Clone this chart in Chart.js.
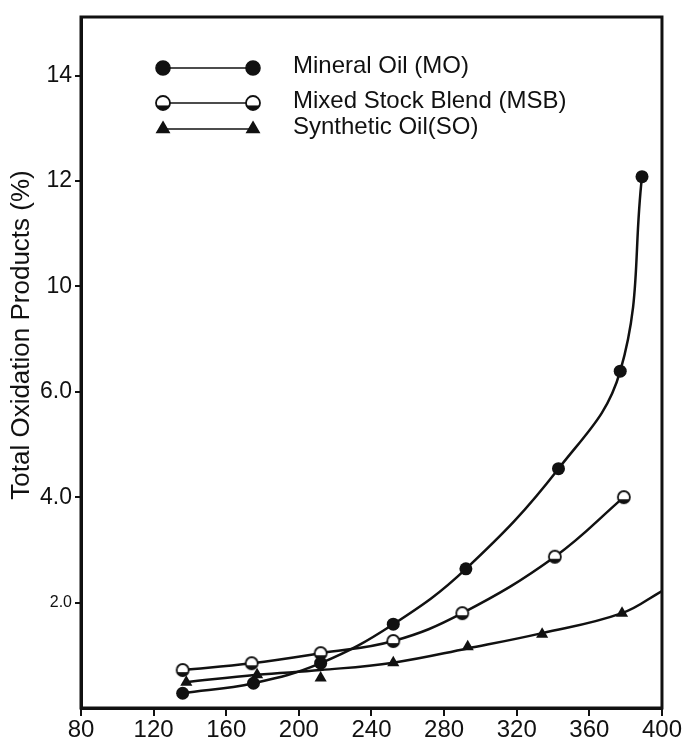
<!DOCTYPE html>
<html>
<head>
<meta charset="utf-8">
<script src="https://cdn.jsdelivr.net/npm/chart.js@4.4.1/dist/chart.umd.min.js"></script>
<style>
  html, body { margin: 0; padding: 0; background: #fff; }
  #wrap { width: 682px; height: 745px; position: relative; }
</style>
</head>
<body>
<div id="wrap"><canvas id="chart" width="682" height="745"></canvas></div>
<script>
// Data (x = temperature axis, y = position on the printed axis)
const seriesNames = ['Mineral Oil (MO)', 'Mixed Stock Blend (MSB)', 'Synthetic Oil(SO)'];

const moX = [136, 175, 212, 252, 292, 343, 377, 389];
const moY = [0.28, 0.47, 0.85, 1.59, 2.64, 4.54, 6.39, 10.08];

const msbX = [136, 174, 212, 252, 290, 341, 379];
const msbY = [0.72, 0.85, 1.04, 1.27, 1.80, 2.87, 4.00];

// SO markers sit slightly off the fitted curve
const soMarkX = [138, 177, 212, 252, 293, 334, 378];
const soMarkY = [0.49, 0.63, 0.57, 0.86, 1.16, 1.40, 1.80];
const soLineX = [138, 177, 212, 252, 293, 334, 378, 400];
const soLineY = [0.49, 0.63, 0.72, 0.86, 1.13, 1.42, 1.80, 2.22];

// printed tick labels (the figure's labels skip 8)
const yTickValues = [2, 4, 6, 8, 10, 12];
const yTickLabels = ['2.0', '4.0', '6.0', '10', '12', '14'];
const xMin = 80, xMax = 400, xStep = 40;

const yTitle = 'Total Oxidation Products (%)';
const FONT = '"Liberation Sans", Arial, sans-serif';

function pts(xs, ys) {
    return xs.map((x, i) => ({ x: x, y: ys[i] }));
}

// half filled circle for MSB
function halfCircle(r) {
    const c = document.createElement('canvas');
    const s = r * 2 + 4;
    c.width = s; c.height = s;
    const g = c.getContext('2d');
    const m = s / 2;
    g.beginPath();
    g.arc(m, m, r, 0, Math.PI * 2);
    g.fillStyle = '#fff';
    g.fill();
    g.save();
    g.clip();
    g.fillStyle = '#111';
    g.fillRect(0, m + r * 0.35, s, s);
    g.restore();
    g.beginPath();
    g.arc(m, m, r, 0, Math.PI * 2);
    g.lineWidth = 1.8;
    g.strokeStyle = '#111';
    g.stroke();
    return c;
}
const msbPoint = halfCircle(6);
const msbLegendPoint = halfCircle(7);

const lineStyle = {
    borderColor: '#111',
    backgroundColor: '#111',
    borderWidth: 2.5,
    tension: 0.4,
    fill: false
};

// frame, y title and legend
const decorPlugin = {
    id: 'decor',
    afterDraw(chart) {
        const ctx = chart.ctx;
        const a = chart.chartArea;
        ctx.save();
        ctx.strokeStyle = '#111';
        ctx.lineWidth = 3;
        ctx.strokeRect(a.left, a.top, a.right - a.left, a.bottom - a.top);

        ctx.fillStyle = '#111';
        ctx.font = '26px ' + FONT;
        ctx.textAlign = 'center';
        ctx.textBaseline = 'middle';
        ctx.translate(22, 335);
        ctx.rotate(-Math.PI / 2);
        ctx.fillText(yTitle, 0, 0);
        ctx.restore();

        // legend: line with a marker at each end
        const rows = [68, 103, 129];
        const styles = ['circle', msbLegendPoint, 'triangle'];
        const x0 = 163, x1 = 253;
        ctx.save();
        rows.forEach((y, i) => {
            ctx.strokeStyle = '#111';
            ctx.lineWidth = 1.6;
            ctx.beginPath();
            ctx.moveTo(x0, y);
            ctx.lineTo(x1, y);
            ctx.stroke();
            const opts = { pointStyle: styles[i], rotation: 0, borderWidth: 1, radius: 7 };
            ctx.fillStyle = '#111';
            Chart.helpers.drawPoint(ctx, opts, x0, y);
            Chart.helpers.drawPoint(ctx, opts, x1, y);
            ctx.fillStyle = '#111';
            ctx.font = '24px ' + FONT;
            ctx.textAlign = 'left';
            ctx.textBaseline = 'middle';
            ctx.fillText(seriesNames[i], 293, y - 2);
        });
        ctx.restore();
    }
};

new Chart(document.getElementById('chart'), {
    type: 'line',
    data: {
        datasets: [
            Object.assign({}, lineStyle, {
                label: seriesNames[0],
                data: pts(moX, moY),
                pointStyle: 'circle',
                pointRadius: 6.5,
                pointBorderWidth: 0
            }),
            Object.assign({}, lineStyle, {
                label: seriesNames[1],
                data: pts(msbX, msbY),
                pointStyle: msbPoint
            }),
            Object.assign({}, lineStyle, {
                label: seriesNames[2],
                data: pts(soLineX, soLineY),
                pointRadius: 0
            }),
            {
                label: seriesNames[2] + ' markers',
                data: pts(soMarkX, soMarkY),
                showLine: false,
                pointStyle: 'triangle',
                pointRadius: 7,
                pointBorderWidth: 0,
                backgroundColor: '#111',
                borderColor: '#111'
            }
        ]
    },
    options: {
        responsive: false,
        animation: false,
        devicePixelRatio: 1,
        layout: { padding: { left: 0, top: 17, right: 12, bottom: 0 }, autoPadding: false },
        plugins: { legend: { display: false }, tooltip: { enabled: false } },
        scales: {
            x: {
                type: 'linear',
                min: xMin,
                max: xMax,
                ticks: {
                    stepSize: xStep,
                    color: '#111',
                    font: { family: FONT, size: 24 },
                    padding: 0,
                    maxRotation: 0
                },
                grid: { drawOnChartArea: false, color: '#111', lineWidth: 2, tickLength: 8 },
                border: { color: '#111', width: 3 },
                afterFit(scale) { scale.height = 37; }
            },
            y: {
                type: 'linear',
                min: 0,
                max: 13.11,
                afterBuildTicks(scale) {
                    scale.ticks = yTickValues.map(v => ({ value: v }));
                },
                ticks: {
                    color: '#111',
                    padding: 3,
                    font: (c) => ({ family: FONT, size: c.tick && c.tick.value === 2 ? 16 : 23 }),
                    callback: (v) => yTickLabels[yTickValues.indexOf(v)] || ''
                },
                grid: { drawOnChartArea: false, color: '#111', lineWidth: 2, tickLength: 6 },
                border: { color: '#111', width: 3 },
                afterFit(scale) { scale.width = 81; }
            }
        }
    },
    plugins: [decorPlugin]
});
</script>
</body>
</html>
